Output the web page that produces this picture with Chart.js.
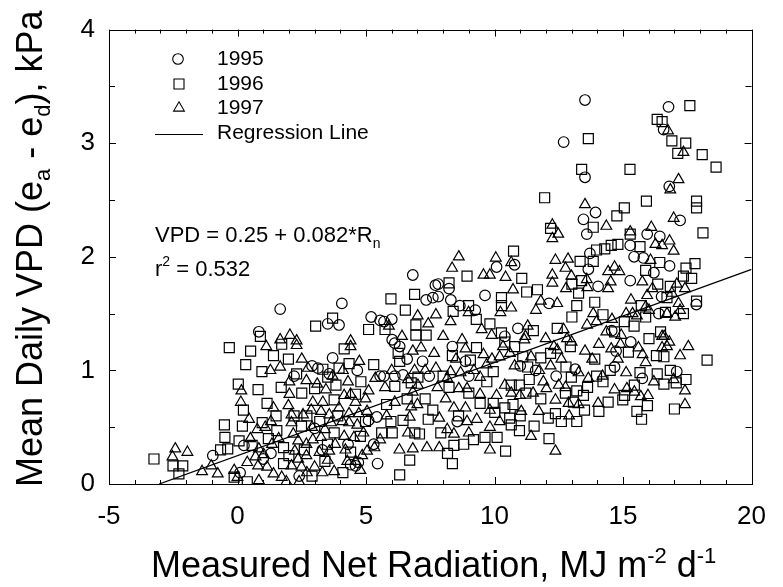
<!DOCTYPE html>
<html>
<head>
<meta charset="utf-8">
<script src="https://cdn.jsdelivr.net/npm/chart.js@4.4.1/dist/chart.umd.min.js"></script>
<style>
  html, body { margin: 0; padding: 0; background: #fff; }
  #wrap { width: 783px; height: 587px; }
</style>
</head>
<body>
<div id="wrap"><canvas id="vpdChart" width="783" height="587"></canvas></div>
<script>
// Data: [net radiation (MJ m-2 d-1), VPD (kPa)]
const points1995 = [
  [1.66,1.54],[0.83,1.34],[-0.96,0.25],[6.82,1.84],[7.81,1.76],[7.34,1.62],[7.81,1.65],[4.06,1.59],
  [3.51,1.41],[3.95,1.40],[5.20,1.47],[5.55,1.44],[6.00,1.45],[6.02,1.27],[13.93,2.39],[13.46,2.33],
  [13.59,2.20],[10.08,1.91],[10.78,1.93],[8.23,1.72],[9.63,1.66],[12.12,1.59],[8.65,1.57],[9.25,1.53],
  [10.91,1.37],[13.71,2.03],[13.65,1.89],[14.03,1.74],[17.22,2.32],[15.94,2.20],[16.43,2.18],[15.28,2.10],
  [15.43,2.00],[15.79,1.99],[16.81,1.92],[16.20,1.86],[15.28,1.79],[17.85,1.58],[16.39,1.50],[13.52,3.38],
  [16.77,3.32],[16.58,3.12],[12.69,3.01],[13.52,2.70],[16.80,2.62],[3.70,1.11],[4.66,1.00],[3.57,0.97],
  [3.13,1.02],[4.59,0.16],[5.10,0.56],[5.42,0.59],[5.55,0.95],[6.12,0.95],[6.44,0.96],[6.31,1.21],
  [6.12,1.24],[7.46,0.95],[8.36,1.21],[8.87,1.08],[13.14,1.01],[8.55,0.55],[14.73,1.17],[14.67,1.03],
  [15.75,0.93],[17.09,0.99],[0.25,0.34],[1.30,0.27],[4.40,0.17],[4.70,0.19],[5.45,0.18],[3.00,0.49],
  [2.90,1.04],[11.00,1.04],[14.56,1.35],[5.70,1.43],[2.40,0.07],[0.10,0.10],[1.00,0.22],[3.30,0.30],
  [5.30,0.35],[6.60,1.10],[7.20,1.08],[9.00,0.95],[10.40,1.30],[11.60,1.00],[12.40,0.95],[15.30,1.25],
  [16.50,1.65],[2.20,0.95],[4.30,0.35],[7.60,1.64],[7.70,1.75],[8.30,1.62],[5.70,0.95]
];
const points1996 = [
  [0.89,1.30],[-0.32,1.20],[0.51,1.17],[1.72,1.23],[0.32,1.05],[1.40,1.13],[0.03,0.88],[0.80,0.83],
  [0.23,0.65],[1.15,0.71],[-0.51,0.52],[0.19,0.51],[0.96,0.54],[1.53,0.47],[-0.49,0.41],[0.06,0.38],
  [-0.66,0.30],[-0.38,0.31],[0.57,0.34],[1.79,0.32],[-3.25,0.22],[-2.51,0.16],[-2.13,0.16],[-2.28,0.09],
  [-0.13,0.06],[0.38,0.02],[1.79,0.18],[5.97,1.63],[6.89,1.67],[6.53,1.53],[3.70,1.46],[3.04,1.39],
  [5.10,1.36],[5.74,1.36],[6.94,1.40],[6.94,1.31],[7.34,1.31],[13.84,2.26],[12.18,2.25],[10.74,2.05],
  [8.93,1.83],[11.06,1.81],[8.23,1.77],[10.27,1.64],[11.25,1.69],[11.67,1.71],[10.27,1.57],[8.99,1.57],
  [8.39,1.52],[9.29,1.45],[9.82,1.41],[11.51,1.35],[10.27,1.33],[12.44,1.37],[10.40,1.25],[13.33,1.96],
  [13.84,1.96],[13.97,2.06],[13.39,1.79],[13.01,1.76],[13.27,1.68],[13.20,1.57],[13.90,1.60],[13.01,1.47],
  [14.76,2.36],[15.05,2.43],[17.86,2.43],[18.11,2.21],[15.28,2.20],[14.29,2.07],[14.54,2.10],[14.80,2.11],
  [15.66,2.09],[16.43,1.95],[15.88,1.88],[17.45,1.90],[17.80,1.94],[17.35,1.83],[17.67,1.81],[16.35,1.76],
  [16.84,1.74],[16.71,1.64],[17.86,1.61],[15.71,1.57],[17.35,1.50],[16.65,1.51],[15.88,1.47],[14.22,1.49],
  [15.05,1.43],[15.43,1.39],[14.67,1.34],[16.01,1.28],[16.46,1.34],[17.60,3.33],[16.33,3.21],[16.52,3.19],
  [13.65,3.04],[16.90,3.02],[17.44,3.00],[17.13,2.91],[18.08,2.90],[18.62,2.79],[13.39,2.77],[15.27,2.77],
  [11.95,2.52],[15.91,2.49],[17.86,2.49],[1.98,1.10],[4.15,1.19],[4.34,1.06],[3.95,1.02],[3.51,0.94],
  [2.30,0.97],[3.32,1.01],[3.83,0.87],[3.00,0.84],[3.76,0.74],[4.59,0.79],[2.49,0.51],[3.76,0.45],
  [4.78,0.42],[4.98,0.55],[5.97,0.55],[6.44,0.56],[5.61,0.45],[6.02,0.45],[7.08,0.44],[6.70,0.21],
  [6.31,0.08],[7.42,0.57],[7.91,0.45],[6.12,0.86],[6.76,0.89],[6.25,1.15],[6.31,1.08],[7.02,0.94],
  [10.78,1.21],[9.06,1.09],[8.36,1.13],[11.80,1.11],[11.10,1.12],[12.18,1.15],[12.95,1.21],[9.95,0.99],
  [11.29,1.03],[11.35,0.92],[12.78,1.03],[12.99,0.94],[13.97,0.95],[8.23,0.85],[10.65,0.87],[10.97,0.87],
  [11.22,0.80],[12.76,0.80],[13.20,0.82],[13.46,0.78],[13.62,0.85],[13.07,0.72],[14.06,0.64],[9.44,0.71],
  [9.95,0.71],[10.01,0.63],[10.40,0.67],[10.72,0.70],[12.37,0.62],[12.09,0.58],[13.20,0.55],[10.59,0.58],
  [10.65,0.52],[10.97,0.47],[11.54,0.51],[9.18,0.39],[9.63,0.41],[10.10,0.41],[12.12,0.40],[8.42,0.34],
  [8.80,0.35],[10.43,0.29],[8.36,0.18],[8.17,0.27],[15.21,1.16],[16.30,1.13],[16.59,1.12],[18.27,1.09],
  [15.66,0.98],[16.33,0.97],[16.84,1.00],[17.45,0.92],[16.59,0.88],[17.07,0.89],[14.22,0.90],[15.44,0.87],
  [15.06,0.78],[14.42,0.72],[15.95,0.69],[15.54,0.64],[15.72,0.57],[17.00,0.66],[14.99,0.74],[0.95,0.99],
  [2.60,0.30],[2.20,0.60],[2.70,0.60],[3.20,0.55],[3.50,0.35],[4.40,0.28],[2.90,0.07],[1.50,0.60],
  [1.70,0.85],[2.50,0.80],[3.90,0.60],[4.80,0.90],[5.30,1.05],[5.80,0.70],[6.60,0.75],[7.30,0.75],
  [7.60,0.65],[8.60,0.60],[9.00,0.80],[9.30,1.20],[9.70,0.90],[11.00,0.60],[11.80,0.75],[12.60,0.55],
  [13.50,0.65],[13.90,1.10],[14.50,1.00],[3.40,0.20],[4.10,0.10],[1.20,0.40],[2.00,0.25],[6.90,0.45],
  [8.00,0.95]
];
const points1997 = [
  [1.66,1.27],[1.12,1.21],[1.28,1.00],[1.66,1.03],[0.15,0.82],[0.13,0.72],[1.40,0.67],[0.45,0.57],
  [0.77,0.48],[1.08,0.50],[1.34,0.35],[-2.42,0.31],[-1.95,0.28],[-2.53,0.24],[-1.02,0.16],[-1.38,0.11],
  [-0.77,0.09],[-0.13,0.12],[0.38,0.19],[0.70,0.24],[1.02,0.26],[0.80,0.16],[0.00,0.06],[0.83,0.03],
  [1.40,0.09],[1.72,0.06],[1.15,0.15],[0.83,0.31],[5.89,1.39],[7.01,1.48],[7.42,1.41],[7.72,1.49],
  [4.40,1.26],[2.04,1.31],[2.30,1.26],[12.25,2.28],[12.48,2.20],[12.25,2.16],[8.61,2.00],[10.05,1.99],
  [10.65,1.95],[8.35,1.90],[9.57,1.84],[9.82,1.84],[10.43,1.82],[10.72,1.71],[10.23,1.51],[10.65,1.55],
  [11.80,1.61],[12.44,1.59],[11.61,1.53],[8.99,1.51],[8.29,1.43],[9.50,1.36],[11.29,1.39],[9.89,1.31],
  [12.69,1.36],[8.74,1.27],[11.16,1.27],[11.99,1.28],[12.82,1.28],[12.37,1.97],[12.86,1.98],[12.76,1.90],
  [12.25,1.84],[12.25,1.77],[12.99,1.83],[13.59,1.80],[12.78,1.72],[13.61,1.73],[13.84,1.50],[13.97,1.43],
  [14.35,2.27],[16.97,2.34],[15.28,2.22],[16.10,2.26],[16.81,2.14],[16.26,2.11],[16.52,2.10],[16.97,2.05],
  [16.07,1.97],[14.67,1.91],[14.42,1.87],[14.86,1.87],[14.52,1.78],[15.75,1.78],[17.09,1.76],[17.41,1.72],
  [14.42,1.72],[16.14,1.72],[15.31,1.62],[16.90,1.68],[15.94,1.66],[17.16,1.59],[15.88,1.56],[16.01,1.53],
  [15.12,1.50],[15.37,1.50],[16.71,1.50],[17.22,1.53],[15.54,1.48],[17.03,1.47],[14.57,1.45],[14.93,1.31],
  [14.35,1.34],[16.52,1.30],[16.75,3.11],[17.35,2.92],[17.16,2.68],[16.84,2.59],[13.52,2.46],[2.30,1.22],
  [4.40,1.21],[4.74,1.08],[2.74,1.02],[2.68,0.91],[3.44,0.83],[2.02,0.90],[2.02,0.79],[4.15,0.78],
  [4.40,0.79],[4.59,0.72],[3.32,0.72],[2.93,0.72],[2.87,0.65],[3.25,0.64],[2.55,0.61],[2.10,0.54],
  [2.17,0.44],[2.36,0.38],[3.57,0.61],[3.95,0.67],[4.34,0.62],[4.72,0.62],[3.64,0.54],[4.08,0.55],
  [4.34,0.54],[4.66,0.52],[4.15,0.42],[4.53,0.41],[3.25,0.41],[2.93,0.39],[2.68,0.35],[2.23,0.29],
  [2.36,0.22],[2.10,0.16],[2.49,0.15],[2.68,0.25],[3.19,0.28],[3.57,0.29],[3.51,0.21],[3.76,0.11],
  [4.27,0.20],[4.59,0.20],[4.85,0.25],[4.78,0.12],[5.04,0.29],[5.04,0.64],[6.70,0.59],[6.63,0.45],
  [5.55,0.39],[5.33,0.32],[6.82,0.31],[7.37,0.32],[7.85,0.32],[7.85,0.58],[5.10,0.82],[5.36,0.93],
  [5.74,0.85],[6.12,0.72],[6.63,0.92],[6.82,0.81],[6.89,1.00],[6.82,1.17],[7.14,1.20],[7.65,1.15],
  [7.02,0.87],[7.72,1.02],[7.78,0.85],[6.76,0.68],[4.98,0.75],[1.98,0.69],[2.10,0.61],[8.87,1.19],
  [10.33,1.21],[9.57,1.14],[10.20,1.12],[11.42,1.12],[12.31,1.21],[12.44,1.18],[13.52,1.17],[14.06,1.23],
  [9.69,1.05],[10.78,1.04],[11.74,1.00],[12.18,1.04],[13.27,0.98],[13.65,0.93],[8.29,0.99],[8.68,0.98],
  [9.44,0.94],[8.16,0.93],[8.61,0.84],[8.93,0.84],[10.40,0.87],[10.65,0.80],[10.99,0.78],[10.08,0.78],
  [12.02,0.84],[12.50,0.87],[12.76,0.85],[12.37,0.74],[12.88,0.71],[13.27,0.70],[14.03,0.71],[8.10,0.75],
  [8.42,0.67],[8.87,0.67],[9.44,0.79],[9.82,0.65],[11.04,0.64],[11.72,0.64],[9.31,0.57],[8.93,0.55],
  [9.82,0.50],[8.16,0.48],[8.42,0.44],[11.42,0.42],[9.82,0.30],[12.37,0.29],[14.54,1.19],[14.90,1.23],
  [15.76,1.14],[16.71,1.21],[16.52,1.20],[17.54,1.21],[17.22,1.13],[15.88,1.07],[15.12,0.98],[16.97,0.92],
  [17.41,0.82],[14.67,0.83],[15.15,0.84],[15.44,0.81],[15.69,0.77],[15.97,0.78],[17.41,0.70],[1.90,0.02],
  [2.40,0.02],[2.70,0.10],[3.00,0.15],[3.30,0.10],[2.90,0.50],[3.40,0.48],[3.80,0.35],[4.20,0.30],
  [4.90,0.45],[3.10,0.88],[3.70,0.95],[4.10,1.00],[4.30,0.90],[2.50,1.10],[6.00,1.00],[6.40,1.30],
  [7.30,1.00],[8.00,1.30],[8.50,1.10],[9.20,1.00],[9.90,1.10],[10.60,1.15],[11.20,1.30],[11.90,0.90],
  [12.60,1.10],[13.00,1.25],[13.80,1.10],[14.20,0.95],[14.80,1.10],[16.20,0.90],[16.80,1.25],[16.60,1.30],
  [1.60,0.40],[1.30,0.55],[0.50,0.40],[5.80,0.60],[6.30,0.30],[7.00,0.70],[9.00,0.45],[10.20,0.55],
  [11.50,0.80],[12.90,0.60],[13.60,1.40],[15.60,1.20]
];
// Regression line VPD = 0.25 + 0.082*Rn, endpoints as drawn
const regressionX = [-3.05, 20];
const regressionY = [0, 1.89];

const xTicks = [-5, 0, 5, 10, 15, 20];
const yTicks = [0, 1, 2, 3, 4];

const FONT = "'Liberation Sans', Arial, Helvetica, sans-serif";
const INK = '#000';

function toXY(list) {
    return list.map(p => ({ x: p[0], y: p[1] }));
}

function markerSet(label, list, style, radius) {
    return {
        label: label,
        data: toXY(list),
        pointStyle: style,
        pointRadius: radius,
        pointHoverRadius: radius,
        pointBorderWidth: 1.2,
        pointBorderColor: INK,
        pointBackgroundColor: 'rgba(0,0,0,0)',
        showLine: false
    };
}

// draw a run of text pieces (for sub/superscripts)
function drawRich(ctx, parts, x, y) {
    let cx = x;
    parts.forEach(p => {
        ctx.font = p[1] + 'px ' + FONT;
        ctx.fillText(p[0], cx, y + p[2]);
        cx += ctx.measureText(p[0]).width;
    });
}

function drawMarker(ctx, style, x, y) {
    ctx.beginPath();
    if (style === 'circle') {
        ctx.arc(x, y, 5.3, 0, Math.PI * 2);
    } else if (style === 'rect') {
        ctx.rect(x - 5, y - 5, 10, 10);
    } else {
        const r = 6.2;
        ctx.moveTo(x, y - r);
        ctx.lineTo(x + r * 0.866, y + r * 0.5);
        ctx.lineTo(x - r * 0.866, y + r * 0.5);
        ctx.closePath();
    }
    ctx.stroke();
}

// frame + inward ticks on all four sides
const frameTicks = {
    id: 'frameTicks',
    afterDraw(chart) {
        const ctx = chart.ctx;
        const a = chart.chartArea;
        const xs = chart.scales.x, ys = chart.scales.y;
        ctx.save();
        ctx.strokeStyle = INK;
        ctx.lineWidth = 1;
        ctx.strokeRect(Math.round(a.left) + 0.5, Math.round(a.top) + 0.5,
            Math.round(a.right - a.left), Math.round(a.bottom - a.top));
        ctx.beginPath();
        for (let v = -5; v <= 20; v += 1) {
            const px = Math.round(xs.getPixelForValue(v)) + 0.5;
            const len = (v % 5 === 0) ? 7 : 4;
            ctx.moveTo(px, a.bottom); ctx.lineTo(px, a.bottom - len);
            ctx.moveTo(px, a.top); ctx.lineTo(px, a.top + len);
        }
        for (let v = 0; v <= 4; v += 0.5) {
            const py = Math.round(ys.getPixelForValue(v)) + 0.5;
            const len = (v % 1 === 0) ? 7 : 6;
            ctx.moveTo(a.left, py); ctx.lineTo(a.left + len, py);
            ctx.moveTo(a.right, py); ctx.lineTo(a.right - len, py);
        }
        ctx.stroke();
        ctx.restore();
    }
};

// legend, equation and axis titles
const annotations = {
    id: 'annotations',
    afterDraw(chart) {
        const ctx = chart.ctx;
        ctx.save();
        ctx.fillStyle = INK;
        ctx.strokeStyle = INK;
        ctx.lineWidth = 1.1;
        ctx.textBaseline = 'alphabetic';
        ctx.textAlign = 'left';

        // legend
        drawMarker(ctx, 'circle', 178, 59);
        drawMarker(ctx, 'rect', 179, 84);
        drawMarker(ctx, 'triangle', 179, 108);
        ctx.beginPath();
        ctx.moveTo(155, 134.5); ctx.lineTo(203, 134.5);
        ctx.stroke();
        ctx.font = '21px ' + FONT;
        ctx.fillText('1995', 217, 65);
        ctx.fillText('1996', 217, 90);
        ctx.fillText('1997', 217, 114);
        ctx.fillText('Regression Line', 217, 139);

        // regression equation
        drawRich(ctx, [['VPD = 0.25 + 0.082*R', 22, 0], ['n', 14, 6]], 155, 242);
        drawRich(ctx, [['r', 22, 0], ['2', 14, -10], [' = 0.532', 22, 0]], 155, 276);

        // x axis title
        drawRich(ctx, [['Measured Net Radiation, MJ m', 36, 0], ['-2', 22, -14],
            [' d', 36, 0], ['-1', 22, -14]], 151, 577);

        // y axis title
        ctx.translate(42, 487);
        ctx.rotate(-Math.PI / 2);
        drawRich(ctx, [['Mean Daily VPD (e', 36, 0], ['a', 22, 8], [' - e', 36, 0],
            ['d', 22, 8], ['), kPa', 36, 0]], 0, 0);
        ctx.restore();
    }
};

new Chart(document.getElementById('vpdChart'), {
    type: 'scatter',
    data: {
        datasets: [
            markerSet('1995', points1995, 'circle', 5.3),
            markerSet('1996', points1996, 'rect', 7.07),
            markerSet('1997', points1997, 'triangle', 6.2),
            {
                label: 'Regression Line',
                type: 'line',
                data: regressionX.map((x, i) => ({ x: x, y: regressionY[i] })),
                borderColor: INK,
                borderWidth: 1.3,
                pointRadius: 0,
                fill: false,
                tension: 0
            }
        ]
    },
    options: {
        responsive: false,
        animation: false,
        devicePixelRatio: 1,
        layout: { padding: { left: 0, right: 20, top: 20, bottom: 0 } },
        plugins: {
            legend: { display: false },
            tooltip: { enabled: false }
        },
        scales: {
            x: {
                type: 'linear',
                min: -5,
                max: 20,
                afterBuildTicks: scale => { scale.ticks = xTicks.map(v => ({ value: v })); },
                afterFit: scale => { scale.height = 103; },
                grid: { display: false, drawTicks: false },
                border: { display: false },
                ticks: {
                    padding: 17,
                    color: INK,
                    font: { family: FONT, size: 26 },
                    maxRotation: 0
                }
            },
            y: {
                type: 'linear',
                min: 0,
                max: 4,
                afterBuildTicks: scale => { scale.ticks = yTicks.map(v => ({ value: v })); },
                afterFit: scale => { scale.width = 109; },
                grid: { display: false, drawTicks: false },
                border: { display: false },
                ticks: {
                    padding: 14,
                    color: INK,
                    font: { family: FONT, size: 26 }
                }
            }
        }
    },
    plugins: [frameTicks, annotations]
});
</script>
</body>
</html>
